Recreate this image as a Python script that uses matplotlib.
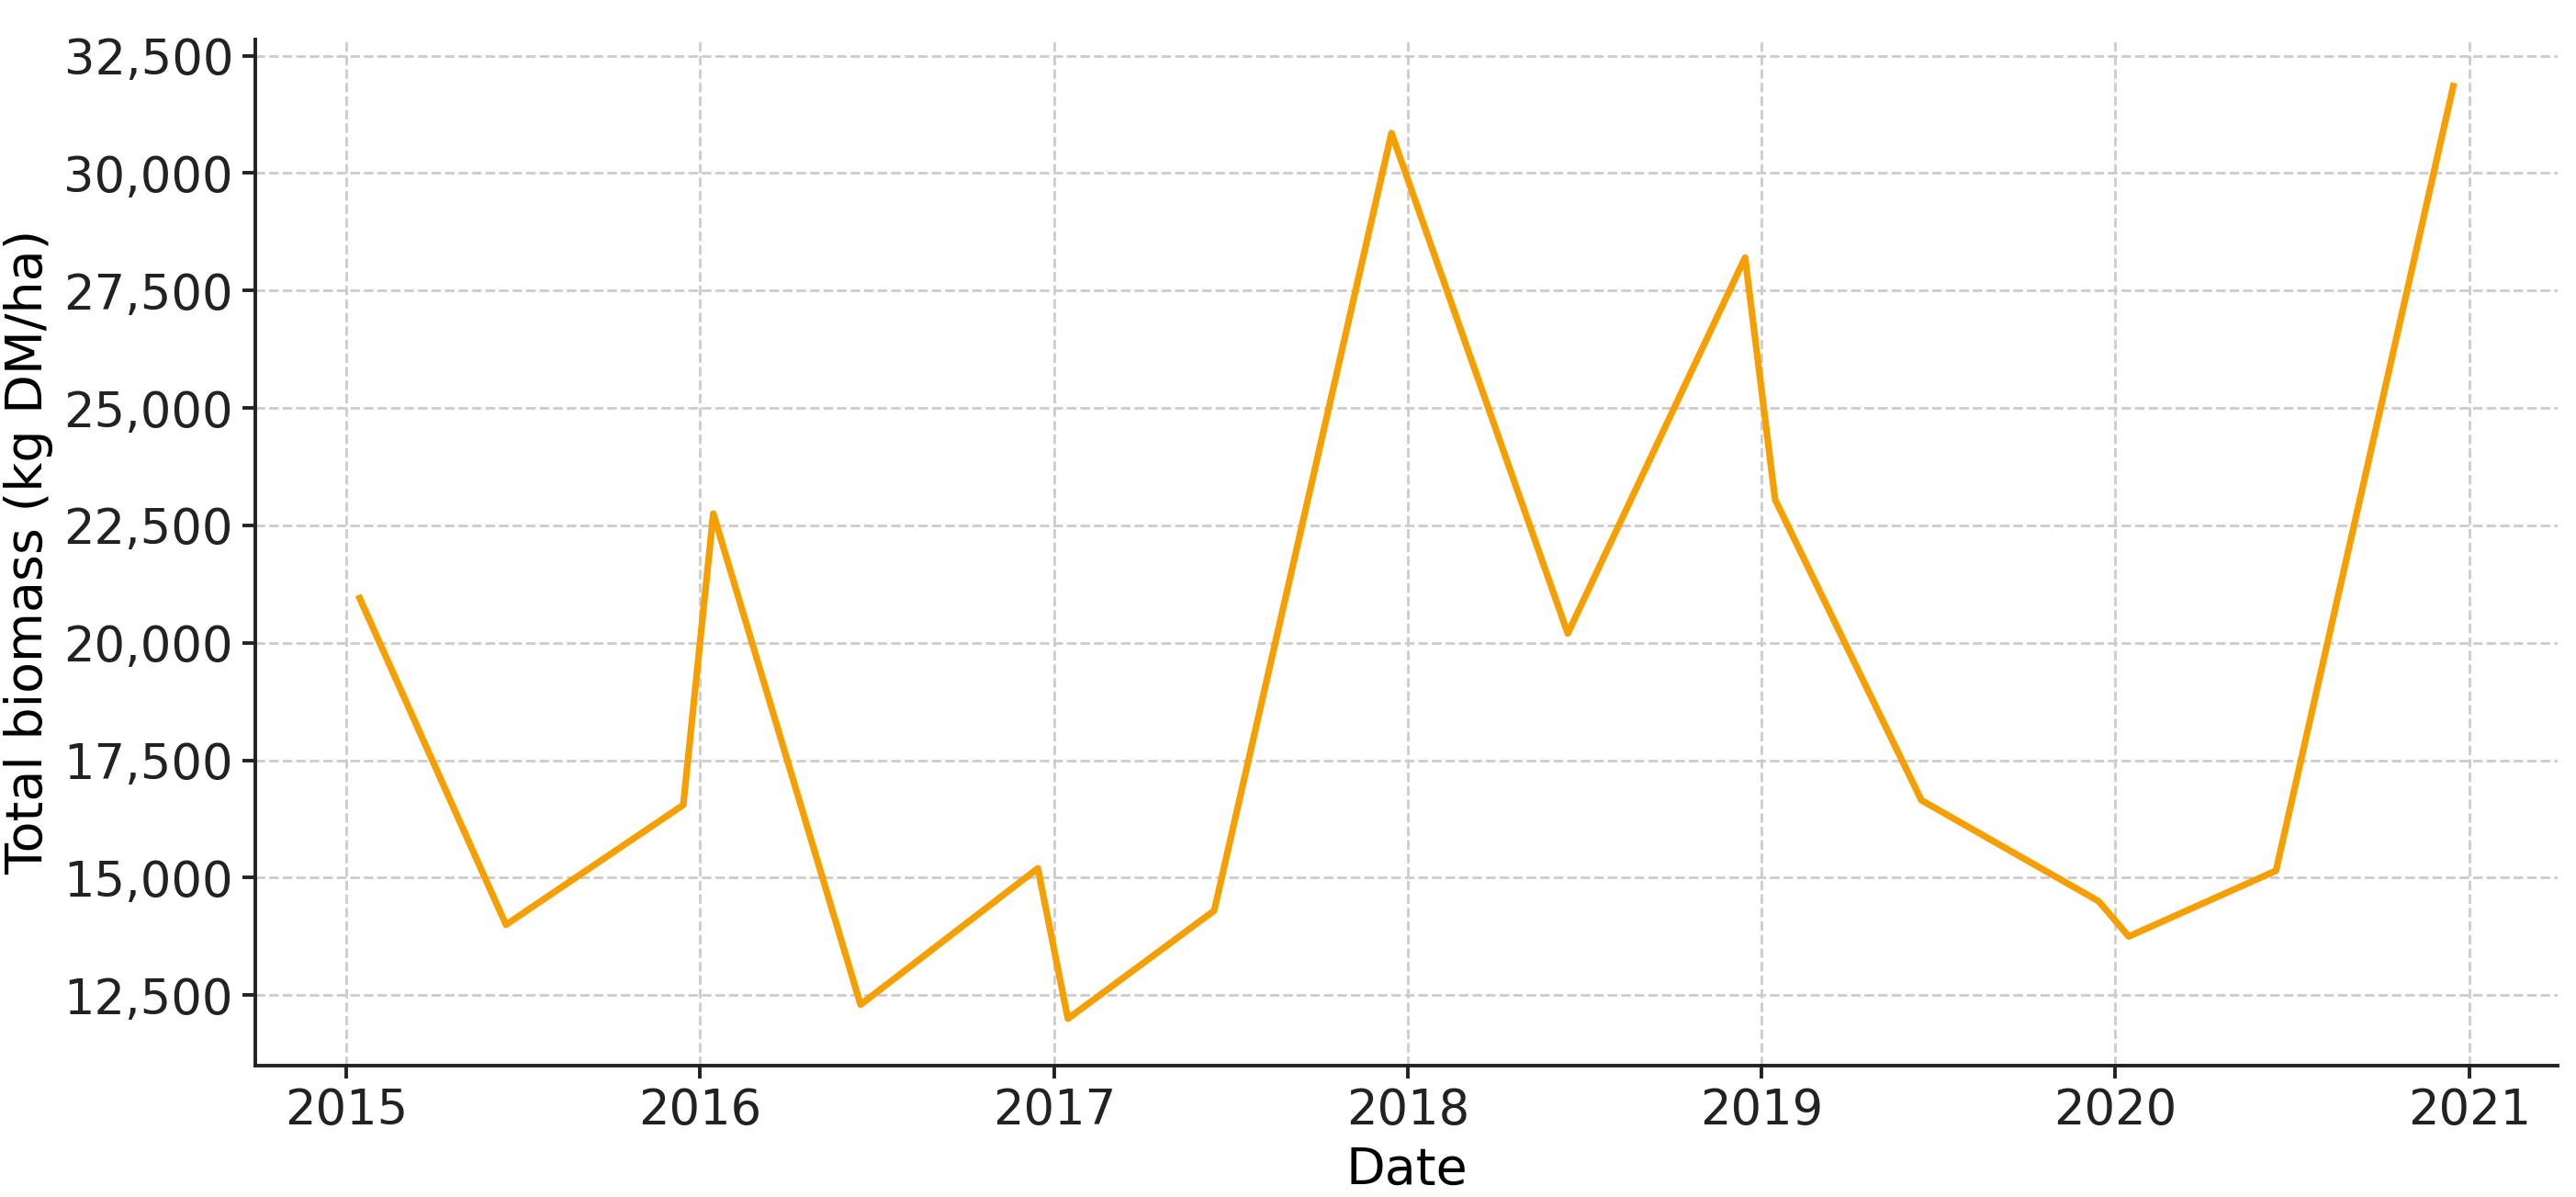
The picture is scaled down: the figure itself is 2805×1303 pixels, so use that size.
import matplotlib
matplotlib.use("Agg")
import matplotlib.pyplot as plt
import matplotlib.dates as mdates
import matplotlib.ticker as mticker
import pandas as pd

dates = [
    "2015-01-15", "2015-06-15", "2015-12-15",
    "2016-01-15", "2016-06-15", "2016-12-15",
    "2017-01-15", "2017-06-15", "2017-12-15",
    "2018-06-15", "2018-12-15",
    "2019-01-15", "2019-06-15", "2019-12-15",
    "2020-01-15", "2020-06-15", "2020-12-15",
]
biomass = [
    20950, 14000, 16550,
    22750, 12300, 15200,
    12000, 14300, 30850,
    20200, 28200,
    23050, 16650, 14500,
    13750, 15150, 31850,
]

x = pd.to_datetime(dates)

fig, ax = plt.subplots(figsize=(14.025, 6.515), dpi=200)
fig.subplots_adjust(left=0.099, right=0.993, top=0.967, bottom=0.11)

ax.plot(x, biomass, color="#F5A000", linewidth=2.6)

ax.set_xlabel("Date", fontsize=20)
ax.set_ylabel("Total biomass (kg DM/ha)", fontsize=20)

ax.xaxis.set_major_locator(mdates.YearLocator())
ax.xaxis.set_major_formatter(mdates.DateFormatter("%Y"))
ax.yaxis.set_major_locator(mticker.MultipleLocator(2500))
ax.yaxis.set_major_formatter(mticker.StrMethodFormatter("{x:,.0f}"))
ax.tick_params(labelsize=19, length=5, width=1.4, color="#222222", labelcolor="#222222")

ax.grid(True, linestyle="--", color="#cccccc", linewidth=1.0)
for side in ["top", "right"]:
    ax.spines[side].set_visible(False)
for side in ["left", "bottom"]:
    ax.spines[side].set_linewidth(1.4)
    ax.spines[side].set_color("#222222")

fig.savefig("out.png", dpi=200)
